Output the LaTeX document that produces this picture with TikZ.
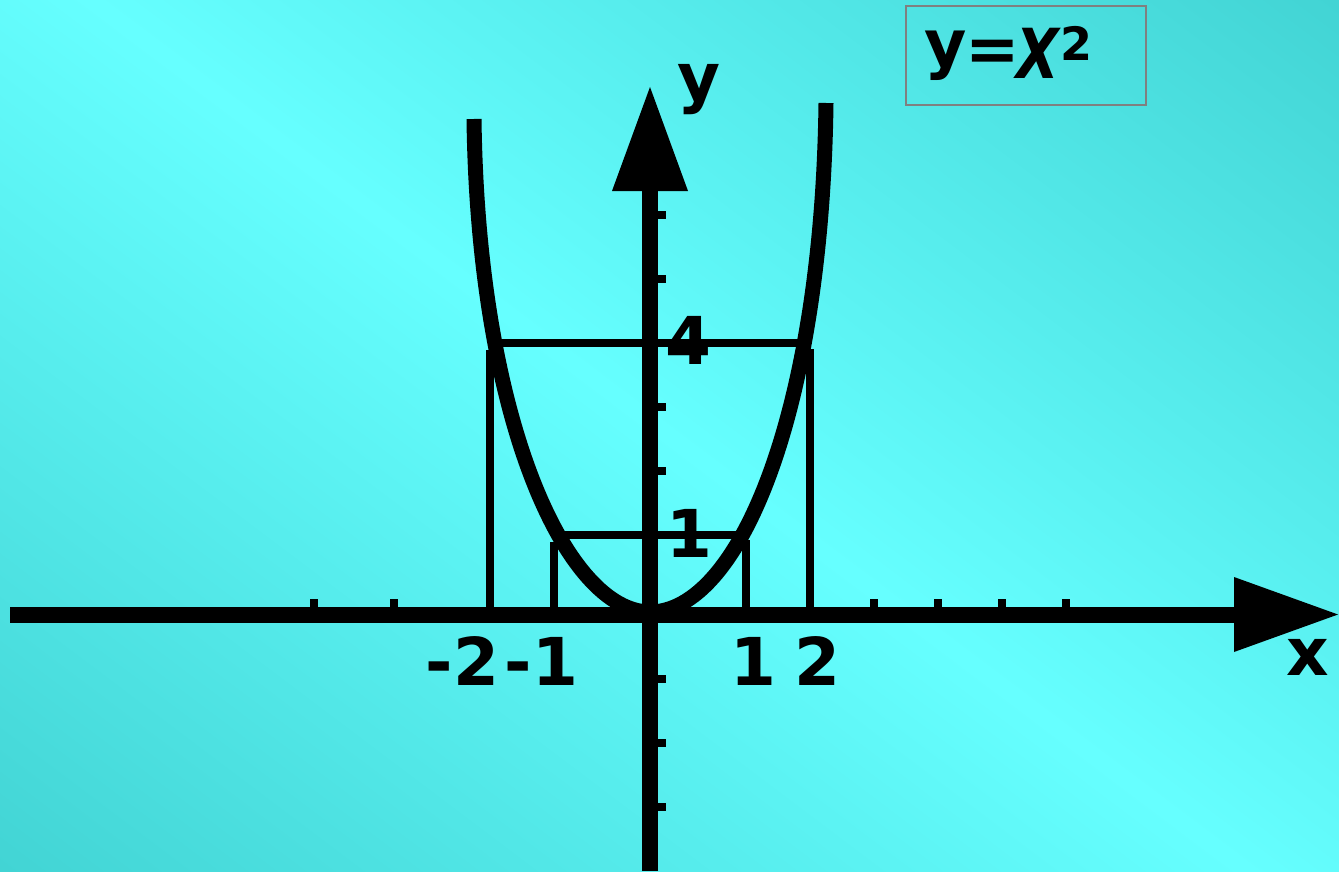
\documentclass[tikz,border=0pt]{standalone}
\usepackage{fontspec}
\setmainfont{DejaVu Sans}
\definecolor{bglight}{RGB}{102,255,255}
\definecolor{bgdark}{RGB}{66,212,212}
\definecolor{boxgray}{RGB}{128,128,128}
\begin{document}
\begin{tikzpicture}[x=1pt,y=-1pt,
  axisline/.style={line width=16pt},
  guide/.style={line width=8pt},
  curve/.style={line width=15pt},
  tickmark/.style={fill=black},
  arrowhead/.style={fill=black},
  lbl/.style={inner sep=0pt, font=\fontsize{66}{66}\selectfont\bfseries},
  ttl/.style={inner sep=0pt},
]
\useasboundingbox (0,0) rectangle (1339,872);
\begin{scope}
  \clip (0,0) rectangle (1339,872);
  \shade[top color=bgdark, bottom color=bgdark, middle color=bglight, shading angle=-37]
    (-80.5,-314) rectangle (1419.5,1186);
\end{scope}

% guide lines for x=+-2 (level 4) and x=+-1 (level 1)
\draw[guide] (494,343) -- (806,343);
\draw[guide] (490,607) -- (490,350);
\draw[guide] (810,607) -- (810,349);
\draw[guide] (559,535) -- (745,535);
\draw[guide] (554,607) -- (554,542);
\draw[guide] (746,607) -- (746,540);

% ticks on x axis
\foreach \tx in {314,394,874,938,1002,1066}
  \fill[tickmark] (\tx-4,599) rectangle (\tx+4,607);
% ticks on y axis
\foreach \ty in {215,279,407,471,679,743,807}
  \fill[tickmark] (658,\ty-4) rectangle (666,\ty+4);

% axes
\coordinate (xstart) at (10,614.5);
\coordinate (xbase) at (1234,614.5);
\coordinate (ystart) at (650,871);
\coordinate (ybase) at (650,191);
\draw[axisline] (xstart) -- (xbase);
\draw[axisline] (ystart) -- (ybase);
\fill[arrowhead] (1234,577) -- (1338,614.5) -- (1234,652) -- cycle;
\fill[arrowhead] (612,191) -- (650,87) -- (688,191) -- cycle;

% parabola
\coordinate (ptop) at (474,119);
\coordinate (vertex) at (650,612);
\coordinate (qtop) at (826,103);
\draw[curve] (ptop) .. controls (478,425) and (568,612) .. (vertex)
  .. controls (738,612) and (822,415) .. (qtop);

% labels
\node[lbl] (lm2) at (462.5,661) {-2};
\node[lbl] (lm1) at (541.5,661) {-1};
\node[lbl] (lp1) at (753,661) {1};
\node[lbl] (lp2) at (817.5,661) {2};
\node[lbl] (l4) at (688,340.5) {4};
\node[lbl] (l1) at (689,533) {1};
\node[lbl] (ly) at (699,90) {y};
\node[lbl] (lx) at (1308,657.5) {x};

% title box
\draw[boxgray, line width=2pt] (906,6.5) rectangle (1146,105);
\node[ttl, font=\fontsize{65}{65}\selectfont\bfseries] (ty) at (946,56) {y};
\node[ttl, font=\fontsize{65}{65}\selectfont\bfseries] (teq) at (992.5,56) {=};
\node[ttl, font=\fontsize{69}{69}\selectfont\bfseries\itshape] (tX) at (1038,53) {\scalebox{0.8}[1]{X}};
\node[ttl, font=\fontsize{46}{46}\selectfont\bfseries] (t2) at (1076.5,43.5) {2};
\end{tikzpicture}
\end{document}
